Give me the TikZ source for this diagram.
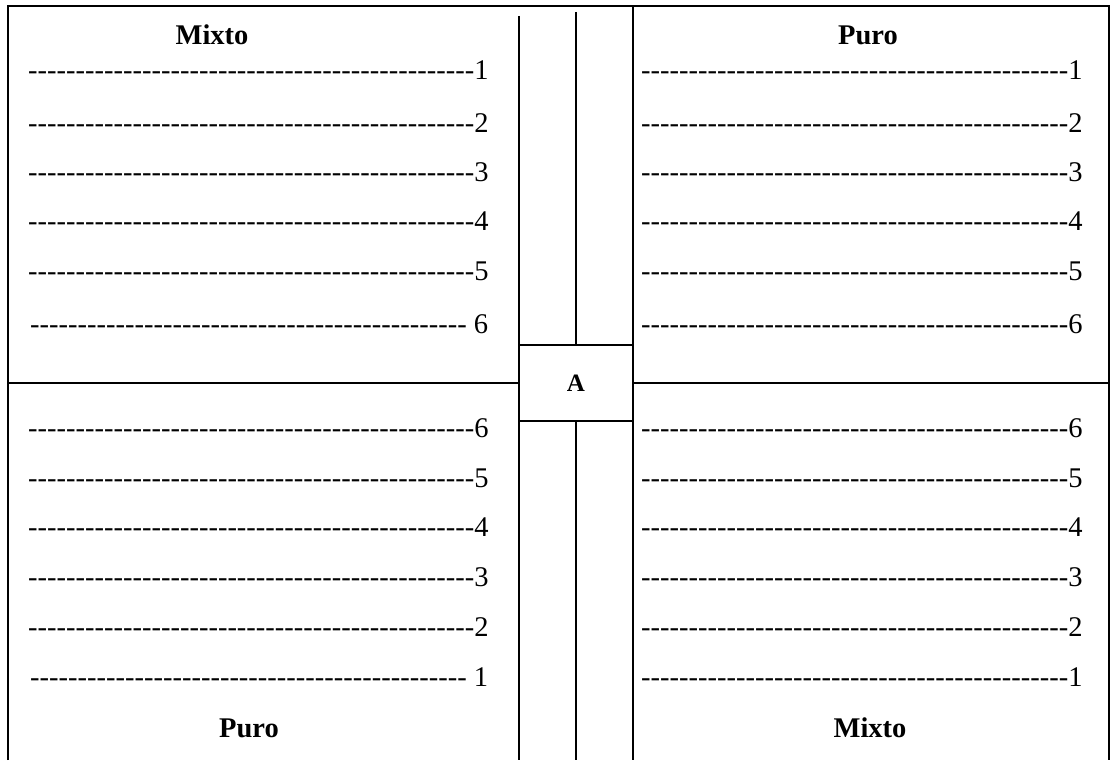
\documentclass[tikz,border=0pt]{standalone}
\usepackage{fontspec}
\setmainfont{Liberation Serif}
\newfontfamily\rowfont{Liberation Serif}
\usetikzlibrary{positioning}
\newcommand\dashrow[1]{\foreach \k in {1,...,#1}{-}}
\tikzset{
  rowtext/.style={anchor=base west,inner sep=0pt,font=\rowfont\fontsize{28.5}{34}\selectfont},
  head/.style={anchor=base,inner sep=0pt,font=\bfseries\fontsize{28.5}{34}\selectfont},
  frame/.style={line width=2pt}
}
\begin{document}
\begin{tikzpicture}[x=1pt,y=-1pt]
 \useasboundingbox (0,0) rectangle (1113,760);
 % outer frame and cross
 \draw[frame] (8,760) -- (8,6) -- (1109,6) -- (1109,760);
 \node[frame,draw,minimum width=114pt,minimum height=76pt,inner sep=0pt,
       font=\bfseries\fontsize{25}{30}\selectfont] (A) at (576,383) {A};
 \coordinate (lt) at (519,16);  \coordinate (lb) at (519,760);
 \coordinate (rt) at (633,6);   \coordinate (rb) at (633,760);
 \coordinate (mt) at (576,12);  \coordinate (mb) at (576,760);
 \coordinate (wl) at (8,383);   \coordinate (wr) at (1109,383);
 \draw[frame] (lt) -- (lb);
 \draw[frame] (rt) -- (rb);
 \draw[frame] (mt) -- (A.north);
 \draw[frame] (A.south) -- (mb);
 \draw[frame] (wl) -- (A.west);
 \draw[frame] (A.east) -- (wr);
 % headings
 \node[head] (hmt) at (212,45) {Mixto};
 \node[head] (hpt) at (868,45) {Puro};
 \node[head] (hpb) at (249,737) {Puro};
 \node[head] (hmb) at (870,737) {Mixto};
 % upper rows
 \foreach \n/\yb in {1/79,2/132,3/181,4/230,5/280}
   \node[rowtext] (tl\n) at (28,\yb) {\dashrow{47}\n};
 \node[rowtext] (tl6) at (30,333) {\dashrow{46}\ 6};
 \foreach \n/\yb in {1/79,2/132,3/181,4/230,5/280,6/333}
   \node[rowtext] (tr\n) at (641,\yb) {\dashrow{45}\n};
 % lower rows
 \foreach \n/\yb in {6/437,5/487,4/536,3/586,2/636}
   \node[rowtext] (bl\n) at (28,\yb) {\dashrow{47}\n};
 \node[rowtext] (bl1) at (30,686) {\dashrow{46}\ 1};
 \foreach \n/\yb in {6/437,5/487,4/536,3/586,2/636,1/686}
   \node[rowtext] (br\n) at (641,\yb) {\dashrow{45}\n};
\end{tikzpicture}
\end{document}
